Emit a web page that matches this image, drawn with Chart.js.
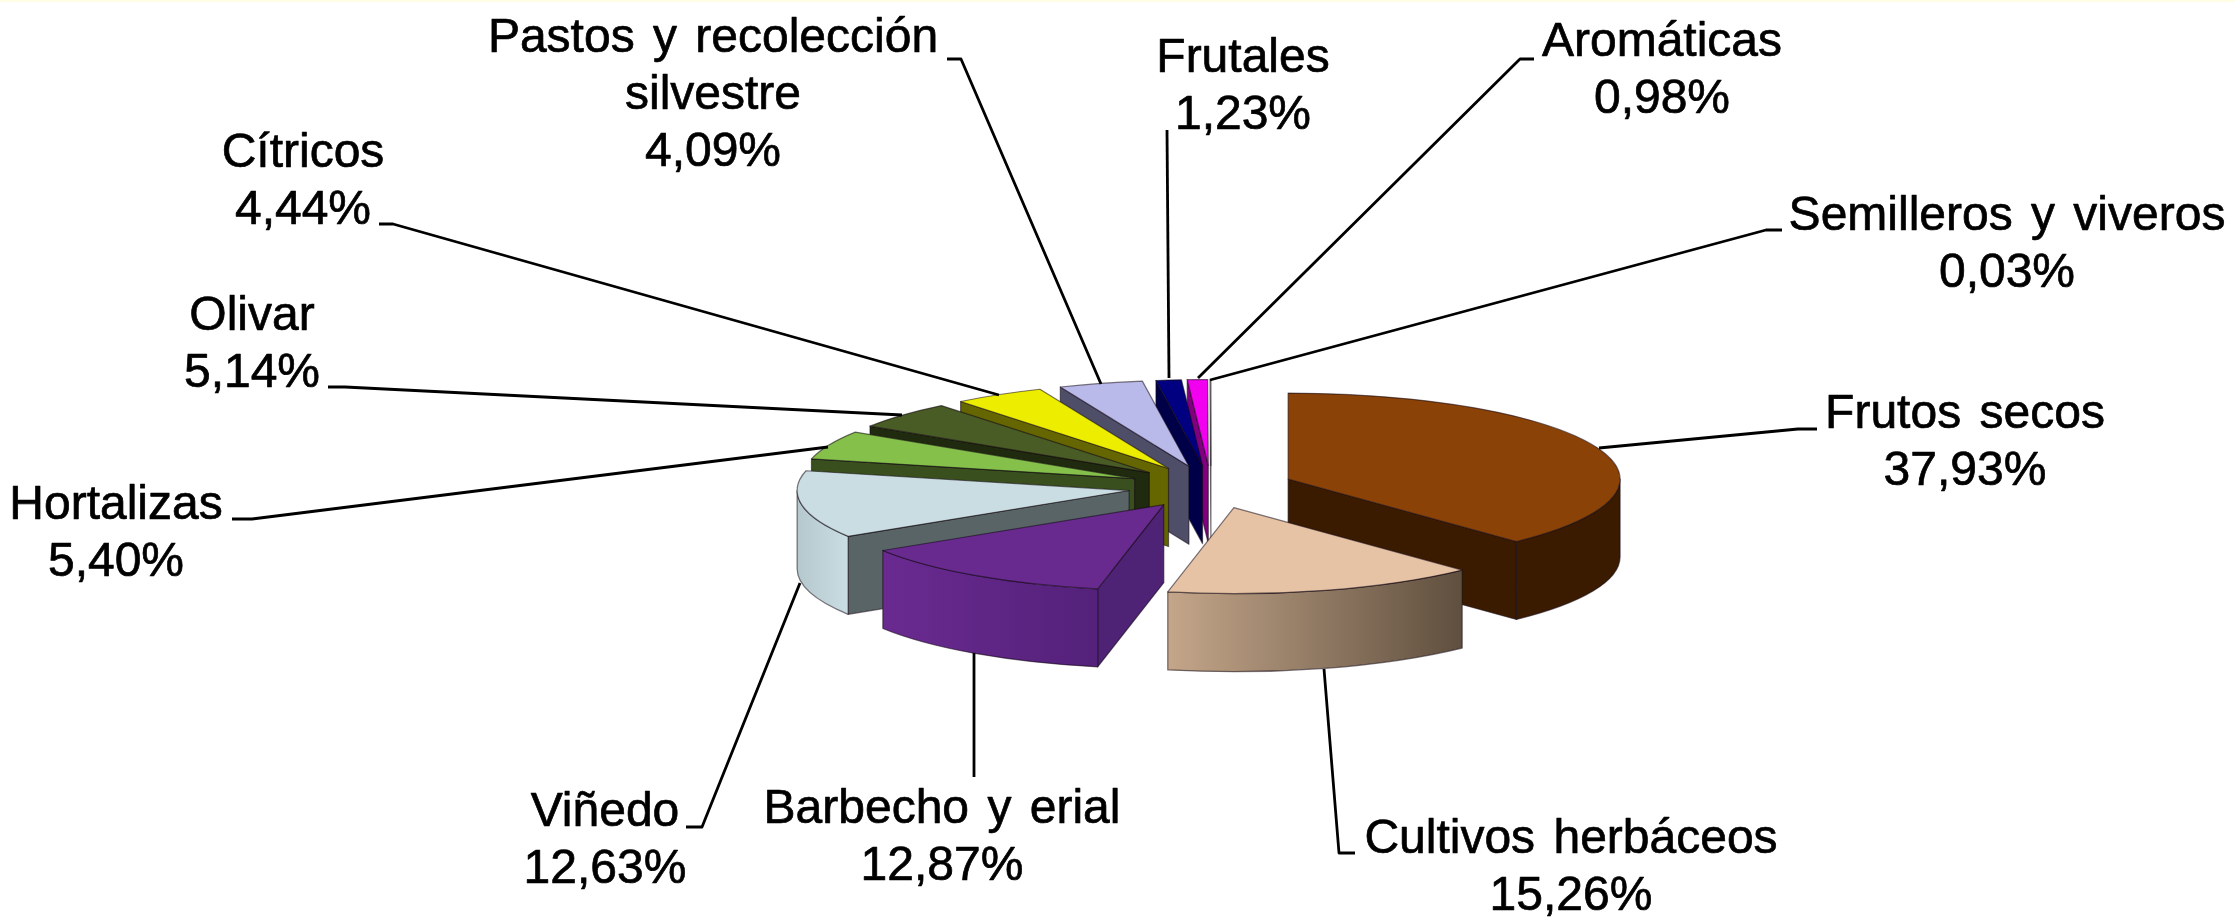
<!DOCTYPE html>
<html lang="es">
<head>
<meta charset="utf-8">
<style>
html,body{margin:0;padding:0;background:#fff;overflow:hidden}
#wrap{width:2235px;height:923px;position:relative}
#wrap::before{content:"";position:absolute;left:0;top:0;width:100%;height:2px;background:#FFFDE6;z-index:1}
canvas{display:block;filter:blur(0.5px)}
</style>
<script src="https://cdn.jsdelivr.net/npm/chart.js@4/dist/chart.umd.min.js"></script>
</head>
<body>
<div id="wrap"><canvas id="c" width="2235" height="923"></canvas></div>
<script>
// ---- data ----
const categories = ['Frutos secos','Cultivos herbáceos','Barbecho y erial','Viñedo','Hortalizas','Olivar','Cítricos',['Pastos y recolección','silvestre'],'Frutales','Aromáticas','Semilleros y viveros'];
const shares = [37.93,15.26,12.87,12.63,5.40,5.14,4.44,4.09,1.23,0.98,0.03];
// ---- styles ----
const topColors  = ['#8B4207','#E6C3A5','#692A90','#CADDE2','#84C04A','#4A5C25','#EDED00','#B9B9EA','#000080','#F200F0','#F4F4F4'];
const sideColors = ['#3B1B00','#60503F','#4E2274','#586466','#39501E','#1F2A0F','#666600','#4E4E68','#000048','#800080','#8A8A8A'];
const wallLeft   = ['#3B1B00','#C4A68A','#6A2A90','#B5C8CE','#39501E','#1F2A0F','#666600','#4E4E68','#000048','#800080','#8A8A8A'];
const wallRight  = ['#3B1B00','#5F4F3E','#53217A','#CADDE2','#39501E','#1F2A0F','#666600','#4E4E68','#000048','#800080','#8A8A8A'];
// ---- label layout: [centre x, first baseline], leader polyline ----
const labelAnchors = [[1965,428],[1571,853],[942,823],[605,826],[116,519],[252,330],[303,167],[713,52],[1243,72],[1662,56],[2007,230]];
const leaders = [
 [[1817,429],[1798,429],[1599,448]],
 [[1355,853],[1339,853],[1324,669]],
 [[974,777],[974,653]],
 [[686,827],[702,827],[800,583]],
 [[232,519],[252,519],[828,447]],
 [[328,387],[345,387],[902,415]],
 [[379,224],[393,224],[999,395]],
 [[947,59],[961,59],[1101,384]],
 [[1167,130],[1169,378]],
 [[1534,59],[1520,59],[1198,378]],
 [[1782,230],[1766,230],[1210,380]]
];
const TILT = 0.259, DEPTH = 78, EXPLODE = 83, RADIUS = 332;
const FONT = '48px "Liberation Sans", Arial, sans-serif', LINE = 57;

const tilted = {
  id:'tilted',
  beforeDatasetDraw(chart,args){
    const ctx = chart.ctx, arcs = args.meta.data;
    const mid = a=>(a.startAngle+a.endAngle)/2;
    const order = arcs.map((a,i)=>i).sort((p,q)=>Math.sin(mid(arcs[p]))-Math.sin(mid(arcs[q])));
    for(const i of order){
      const a = arcs[i], s = a.startAngle, e = a.endAngle, m = mid(a);
      const rx = a.outerRadius, ry = rx*TILT;
      const ox = a.x+Math.cos(m)*EXPLODE, oy = a.y+Math.sin(m)*EXPLODE*TILT;
      const px = t=>ox+Math.cos(t)*rx, py = t=>oy+Math.sin(t)*ry;
      ctx.save();
      ctx.lineJoin='round';
      ctx.strokeStyle='rgba(20,10,20,0.55)';
      ctx.lineWidth=1.2;
      // radial walls whose outward normal points down the screen
      const side = t=>{
        ctx.beginPath();
        ctx.moveTo(ox,oy);ctx.lineTo(px(t),py(t));ctx.lineTo(px(t),py(t)+DEPTH);ctx.lineTo(ox,oy+DEPTH);ctx.closePath();
        ctx.fillStyle=sideColors[i];ctx.fill();ctx.stroke();
      };
      if(Math.sin(s-Math.PI/2)>1e-6) side(s);
      if(Math.sin(e+Math.PI/2)>1e-6) side(e);
      // outer curved wall: visible where sin(t)>0
      for(let k=-1;k<=1;k++){
        const lo=Math.max(s,k*2*Math.PI), hi=Math.min(e,k*2*Math.PI+Math.PI);
        if(hi<=lo) continue;
        const g=ctx.createLinearGradient(px(hi),0,px(lo),0);
        g.addColorStop(0,wallLeft[i]);g.addColorStop(1,wallRight[i]);
        ctx.beginPath();
        ctx.ellipse(ox,oy,rx,ry,0,lo,hi,false);
        ctx.lineTo(px(hi),py(hi)+DEPTH);
        ctx.ellipse(ox,oy+DEPTH,rx,ry,0,hi,lo,true);
        ctx.closePath();
        ctx.fillStyle=g;ctx.fill();ctx.stroke();
      }
      // top face: the library's own arc element, drawn on the tilted plane
      ctx.save();
      ctx.translate(ox,oy);ctx.scale(1,TILT);ctx.translate(-a.x,-a.y);
      a.draw(ctx);
      ctx.restore();
      ctx.beginPath();
      ctx.moveTo(ox,oy);
      ctx.ellipse(ox,oy,rx,ry,0,s,e,false);
      ctx.closePath();ctx.stroke();
      ctx.restore();
    }
    return false;
  },
  afterDraw(chart){
    const ctx = chart.ctx;
    ctx.save();
    ctx.strokeStyle='#000';ctx.lineWidth=2.8;ctx.lineJoin='round';
    leaders.forEach(pts=>{
      ctx.beginPath();
      pts.forEach((p,j)=>j?ctx.lineTo(p[0],p[1]):ctx.moveTo(p[0],p[1]));
      ctx.stroke();
    });
    ctx.fillStyle='#000';ctx.font=FONT;ctx.textAlign='center';ctx.textBaseline='alphabetic';
    ctx.lineWidth=0.7;
    if('wordSpacing' in ctx) ctx.wordSpacing='5px';
    categories.forEach((c,i)=>{
      const lines=[].concat(c, shares[i].toFixed(2).replace('.',',')+'%');
      const [x,y]=labelAnchors[i];
      lines.forEach((t,j)=>{ctx.fillText(t,x,y+j*LINE);ctx.strokeText(t,x,y+j*LINE);});
    });
    ctx.restore();
  }
};

new Chart(document.getElementById('c'),{
  type:'pie',
  data:{labels:categories,datasets:[{data:shares,backgroundColor:topColors,borderWidth:0,radius:RADIUS}]},
  options:{
    responsive:false,animation:false,
    layout:{padding:{left:187,top:51}},
    plugins:{legend:{display:false},tooltip:{enabled:false}},
    events:[]
  },
  plugins:[tilted]
});
</script>
</body>
</html>
